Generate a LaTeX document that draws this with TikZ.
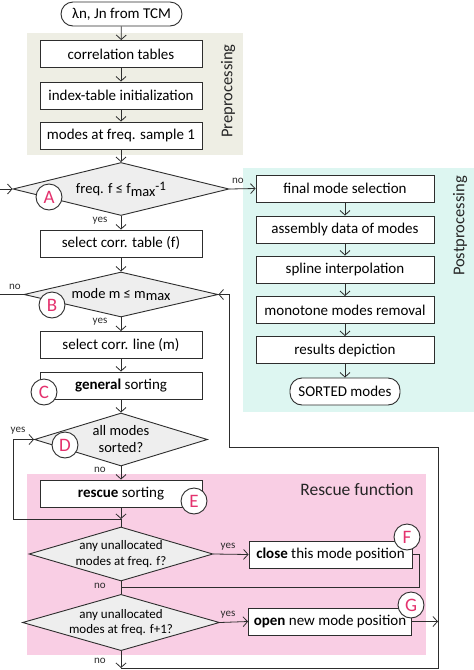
\documentclass[tikz,border=0pt]{standalone}
\usepackage{fontspec}
\setmainfont{Carlito}
\usetikzlibrary{shapes.geometric,arrows.meta}
\definecolor{linec}{RGB}{45,45,45}
\definecolor{beigef}{RGB}{238,238,228}
\definecolor{cyanf}{RGB}{221,246,241}
\definecolor{pinkf}{RGB}{249,206,228}
\definecolor{diaf}{RGB}{238,238,238}
\definecolor{letc}{RGB}{228,50,110}
\tikzset{
 box/.style={draw=linec, line width=0.9pt, fill=white, minimum height=27pt, inner sep=0pt, font=\fontsize{15}{17}\selectfont},
 mbox/.style={box, minimum width=162pt},
 pbox/.style={box, minimum width=178pt},
 rbox/.style={box, minimum width=163pt},
 term/.style={box, rounded corners=12pt},
 dia/.style={diamond, draw=linec, line width=0.9pt, fill=diaf, inner sep=0pt, aspect=3.5, align=center, font=\fontsize{14.5}{16}\selectfont},
 circ/.style={circle, draw=linec, line width=0.9pt, fill=white, minimum size=26pt, inner sep=0pt, text=letc, font=\fontsize{19}{19}\selectfont},
 lab/.style={font=\fontsize{11}{12}\selectfont, text=linec, inner sep=1pt},
 arr/.style={draw=linec, line width=0.8pt, -{Straight Barb[length=4.5pt,width=10pt]}},
 ln/.style={draw=linec, line width=0.8pt},
 region/.style={font=\fontsize{16.5}{18}\selectfont, text=black!85}
}
\begin{document}
\begin{tikzpicture}[x=1pt,y=-1pt]
\useasboundingbox[fill=white] (0,0) rectangle (474,670);
% regions
\fill[beigef] (27,33) rectangle (243,155);
\fill[cyanf] (243,168) rectangle (474,412);
\fill[pinkf] (27,474) rectangle (426,655);
\node[region, rotate=90] (pretxt) at (228,91) {Preprocessing};
\node[region, rotate=90] (posttxt) at (460,226) {Postprocessing};
\node[region, font=\fontsize{17.5}{19}\selectfont] (restxt) at (357,490) {Rescue function};
% main column
\node[term, minimum width=121pt, minimum height=24pt] (start) at (121.5,14) {λn, Jn from TCM};
\node[mbox] (b1) at (121,54) {correlation tables};
\node[mbox] (b2) at (121,95.5) {index-table initialization};
\node[mbox] (b3) at (121,135.5) {modes at freq. sample 1};
\node[dia, minimum width=216pt, minimum height=53pt] (A) at (121,189) {freq. f ≤ f\raisebox{-0.4ex}{max}\raisebox{0.5ex}{\fontsize{13}{14}\selectfont -1}};
\node[mbox] (b4) at (121,243.5) {select corr. table (f)};
\node[dia, minimum width=194pt, minimum height=45pt] (B) at (121,294.5) {mode m ≤ m\raisebox{-0.4ex}{max}};
\node[mbox] (b5) at (121,345) {select corr. line (m)};
\node[mbox] (b6) at (121,385.5) {\textbf{general} sorting};
\node[dia, minimum width=173pt, minimum height=53pt, font=\fontsize{14.5}{17}\selectfont] (D) at (121,439.5) {all modes\\sorted?};
\node[mbox] (b7) at (121,493.5) {\textbf{rescue} sorting};
\node[dia, minimum width=173pt, minimum height=54pt, font=\fontsize{13}{15.5}\selectfont] (F) at (121,554) {any unallocated\\modes at freq. f?};
\node[dia, minimum width=173pt, minimum height=53pt, font=\fontsize{13}{15.5}\selectfont] (G) at (121,622.5) {any unallocated\\modes at freq. f+1?};
\node[rbox] (close) at (330.5,554.5) {\textbf{close} this mode position};
\node[rbox] (open) at (330,621.5) {\textbf{open} new mode position};
% post column
\node[pbox] (p1) at (345,188.5) {final mode selection};
\node[pbox] (p2) at (345,229.5) {assembly data of modes};
\node[pbox] (p3) at (345,269.5) {spline interpolation};
\node[pbox] (p4) at (345,310) {monotone modes removal};
\node[pbox] (p5) at (345,350) {results depiction};
\node[term, minimum width=110pt] (p6) at (345,391.5) {SORTED modes};
% coordinates
\coordinate (inA) at (0,189);
\coordinate (outB) at (0,294.5);
\coordinate (J1) at (121,519);
\coordinate (DL) at (13,519);
\coordinate (J2) at (121,587);
\coordinate (CR) at (419,554.5);
\coordinate (L0) at (121,668);
\coordinate (L1) at (438,668);
\coordinate (L2) at (438,447);
\coordinate (L3) at (229,447);
\coordinate (OR) at (438,621.5);
% connectors
\draw[arr] (start) -- (b1);
\draw[arr] (b1) -- (b2);
\draw[arr] (b2) -- (b3);
\draw[arr] (b3) -- (A);
\draw[arr] (inA) -- (A.west);
\draw[arr] (A.east) -- (p1.west);
\draw[arr] (A) -- (b4);
\draw[arr] (b4) -- (B);
\draw[ln] (B.west) -- (outB);
\draw[arr] (B) -- (b5);
\draw[arr] (b5) -- (b6);
\draw[arr] (b6) -- (D);
\draw[arr] (D) -- (b7);
\draw[arr] (b7) -- (J1);
\draw[arr] (J1) -- (DL) |- (D.west);
\draw[ln] (J1) -- (F);
\draw[arr] (F.east) -- (close.west);
\draw[ln] (F) -- (G);
\draw[ln] (close.east) -- (CR) |- (J2);
\draw[arr] (G.east) -- (open.west);
\draw[arr] (open.east) -- (OR);
\draw[arr] (G.south) -- (L0);
\draw[arr] (L0) -- (L1) -- (L2) -- (L3) |- (B.east);
\draw[arr] (p1) -- (p2);
\draw[arr] (p2) -- (p3);
\draw[arr] (p3) -- (p4);
\draw[arr] (p4) -- (p5);
\draw[arr] (p5) -- (p6);
% labels
\node[lab] (yA) at (100,221) {yes};
\node[lab] (nA) at (238,181) {no};
\node[lab] (yB) at (100,322) {yes};
\node[lab] (nB) at (15,287) {no};
\node[lab] (yD) at (18,431) {yes};
\node[lab] (nD) at (100,470) {no};
\node[lab] (yF) at (228,547) {yes};
\node[lab] (nF) at (100,586) {no};
\node[lab] (yG) at (228,615) {yes};
\node[lab] (nG) at (100,661) {no};
% circle markers
\node[circ] (cA) at (49,197) {A};
\node[circ] (cB) at (52,305) {B};
\node[circ] (cC) at (44,392) {C};
\node[circ] (cD) at (65,445) {D};
\node[circ] (cE) at (194,501) {E};
\node[circ] (cF) at (407,537) {F};
\node[circ] (cG) at (411,605) {G};
\end{tikzpicture}
\end{document}
